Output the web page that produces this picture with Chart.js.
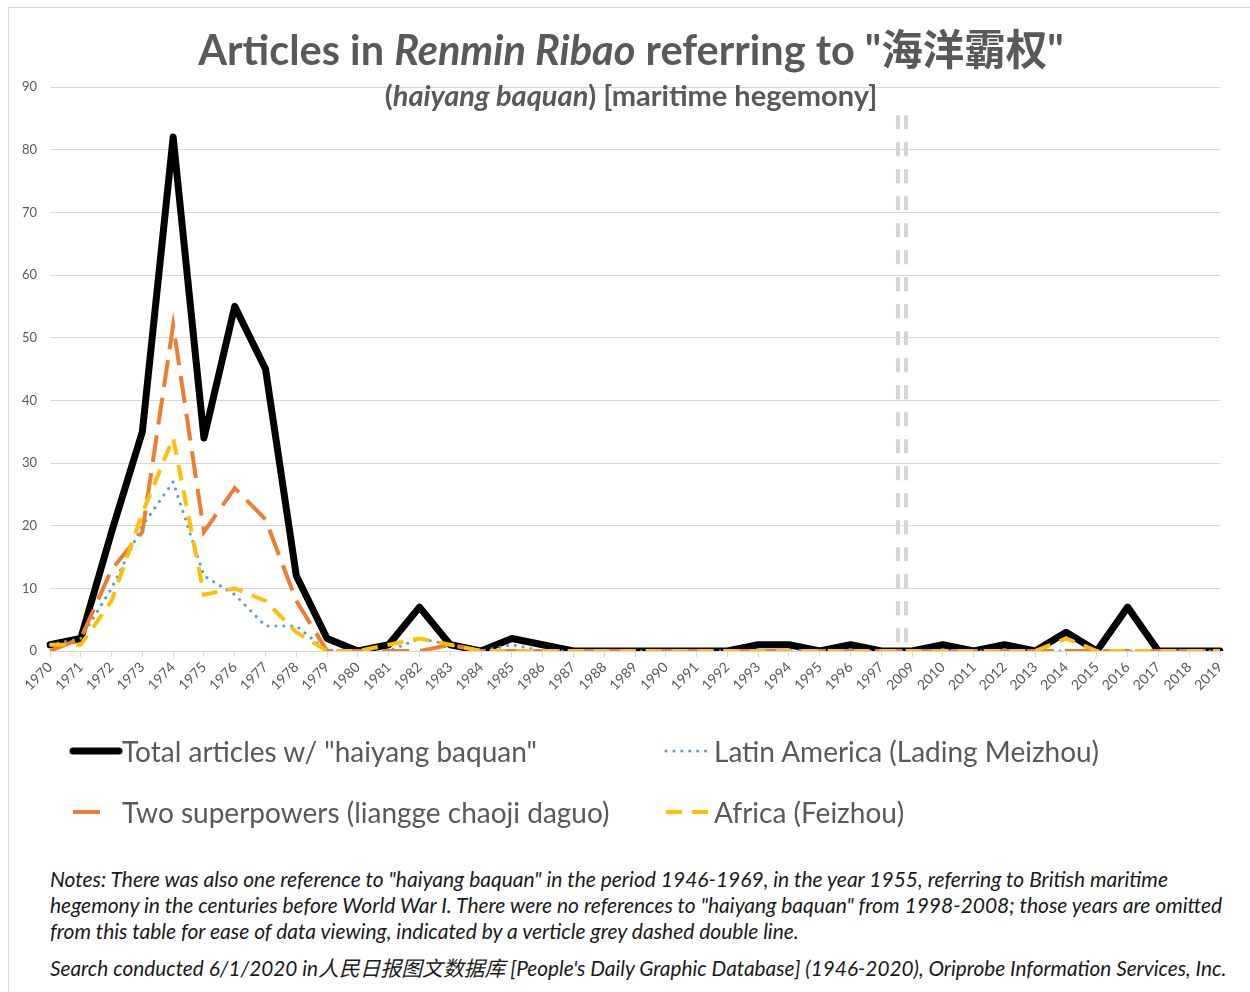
<!DOCTYPE html>
<html>
<head>
<meta charset="utf-8">
<script src="https://cdn.jsdelivr.net/npm/chart.js@4.4.1/dist/chart.umd.min.js"></script>
<style>
  body { margin: 0; background: #fff; font-family: Lato, "Noto Sans CJK SC", sans-serif; color: #595959; }
  #wrap { position: relative; width: 1250px; height: 992px; overflow: hidden; }
  #frame { position: absolute; left: 8px; top: 7px; width: 1300px; height: 1100px; border: 1px solid #d9d9d9; }
  #chart { position: absolute; left: 0; top: 0; }
  .title { position: absolute; left: 0; width: 1262px; text-align: center; font-weight: bold; white-space: nowrap; line-height: 1; }
  #t1 { top: 29px; font-size: 41.5px; }
  #t2 { top: 80px; font-size: 29px; }
  .leg { position: absolute; font-size: 28px; line-height: 30px; white-space: nowrap; }
  .note { position: absolute; left: 50px; font-style: italic; font-size: 21px; line-height: 24px; white-space: nowrap; color: #1a1a1a; }
</style>
</head>
<body>
<div id="wrap">
  <div id="frame"></div>
  <canvas id="chart" width="1250" height="860"></canvas>
  <div class="title" id="t1">Articles in <i>Renmin Ribao</i> referring to "海洋霸权"</div>
  <div class="title" id="t2">(<i>haiyang baquan</i>) [maritime hegemony]</div>

  <div class="leg" style="left:122px; top:736px;">Total articles w/ "haiyang baquan"</div>
  <div class="leg" style="left:714px; top:736px;">Latin America (Lading Meizhou)</div>
  <div class="leg" style="left:122px; top:797px;">Two superpowers (liangge chaoji daguo)</div>
  <div class="leg" style="left:714px; top:797px;">Africa (Feizhou)</div>

  <div class="note" style="top:867px;">Notes: There was also one reference to "haiyang baquan" in the period 1946-1969, in the year 1955, referring to British maritime</div>
  <div class="note" style="top:893px;">hegemony in the centuries before World War I. There were no references to "haiyang baquan" from 1998-2008; those years are omitted</div>
  <div class="note" style="top:919px;">from this table for ease of data viewing, indicated by a verticle grey dashed double line.</div>
  <div class="note" style="top:956px; font-size:20.8px;">Search conducted 6/1/2020 in人民日报图文数据库 [People's Daily Graphic Database] (1946-2020), Oriprobe Information Services, Inc.</div>
</div>

<script>
// years 1998-2008 are left out (no references)
const years = ['1970', '1971', '1972', '1973', '1974', '1975', '1976', '1977', '1978', '1979',
  '1980', '1981', '1982', '1983', '1984', '1985', '1986', '1987', '1988', '1989',
  '1990', '1991', '1992', '1993', '1994', '1995', '1996', '1997',
  '2009', '2010', '2011', '2012', '2013', '2014', '2015', '2016', '2017', '2018', '2019'];

const totalArticles = [1, 2, 19, 35, 82, 34, 55, 45, 12, 2,
  0, 1, 7, 1, 0, 2, 1, 0, 0, 0,
  0, 0, 0, 1, 1, 0, 1, 0,
  0, 1, 0, 1, 0, 3, 0, 7, 0, 0, 0];

const latinAmerica = [1, 2, 10, 20, 27, 12, 9, 4, 4, 0,
  0, 0, 2, 1, 0, 1, 0, 0, 0, 0,
  0, 0, 0, 0, 0, 0, 0, 0,
  0, 0, 0, 0, 0, 0, 0, 0, 0, 0, 0];

const twoSuperpowers = [0, 2, 13, 19, 52, 19, 26, 21, 8, 0,
  0, 0, 0, 1, 0, 0, 0, 0, 0, 0,
  0, 0, 0, 0, 0, 0, 0, 0,
  0, 0, 0, 0, 0, 0, 0, 0, 0, 0, 0];

const africa = [1, 1, 8, 22, 34, 9, 10, 8, 3, 0,
  0, 1, 2, 1, 0, 0, 0, 0, 0, 0,
  0, 0, 0, 0, 0, 0, 0, 0,
  0, 0, 0, 0, 0, 2, 0, 0, 0, 0, 0];

const yTicks = [0, 10, 20, 30, 40, 50, 60, 70, 80, 90];

const greyText = '#595959';
const gridGrey = '#d9d9d9';

// gap marker + legend line samples
const extras = {
  id: 'extras',
  beforeDatasetsDraw(chart) {
    const { ctx, scales: { x, y } } = chart;
    const i = years.indexOf('1997');
    const step = x.getPixelForValue(i + 1) - x.getPixelForValue(i);
    const cx = x.getPixelForValue(i) + step * 0.67;
    ctx.save();
    ctx.strokeStyle = '#d4d4d4';
    ctx.lineWidth = 4;
    ctx.setLineDash([14, 13]);
    [cx - 4, cx + 4].forEach(px => {
      ctx.beginPath();
      ctx.moveTo(px, y.getPixelForValue(85.5));
      ctx.lineTo(px, y.getPixelForValue(0));
      ctx.stroke();
    });
    ctx.restore();
  },
  afterDraw(chart) {
    const ctx = chart.ctx;
    const samples = [
      { ds: 0, x: 73, y: 751, w: 46 },
      { ds: 1, x: 666, y: 751, w: 42 },
      { ds: 2, x: 73, y: 812, w: 31 },
      { ds: 3, x: 666, y: 812, w: 42 }
    ];
    samples.forEach(s => {
      const d = chart.data.datasets[s.ds];
      ctx.save();
      ctx.strokeStyle = d.borderColor;
      ctx.lineWidth = d.borderWidth;
      ctx.lineCap = d.borderCapStyle || 'butt';
      ctx.setLineDash(d.borderDash || []);
      ctx.beginPath();
      ctx.moveTo(s.x, s.y);
      ctx.lineTo(s.x + s.w, s.y);
      ctx.stroke();
      ctx.restore();
    });
  }
};

new Chart(document.getElementById('chart'), {
  type: 'line',
  data: {
    labels: years,
    datasets: [
      {
        label: 'Total articles w/ "haiyang baquan"',
        data: totalArticles,
        borderColor: '#000000',
        borderWidth: 7,
        borderCapStyle: 'round',
        borderJoinStyle: 'round',
        order: 4
      },
      {
        label: 'Latin America (Lading Meizhou)',
        data: latinAmerica,
        borderColor: '#5b9bd5',
        borderWidth: 3,
        borderDash: [0.1, 7.8],
        borderCapStyle: 'round',
        order: 3
      },
      {
        label: 'Two superpowers (liangge chaoji daguo)',
        data: twoSuperpowers,
        borderColor: '#ed7d31',
        borderWidth: 4,
        borderDash: [27, 11],
        order: 2
      },
      {
        label: 'Africa (Feizhou)',
        data: africa,
        borderColor: '#ffc000',
        borderWidth: 4,
        borderDash: [16, 10],
        order: 1
      }
    ]
  },
  options: {
    responsive: false,
    animation: false,
    elements: { point: { radius: 0 }, line: { tension: 0 } },
    layout: { padding: { top: 87, right: 30, left: 0, bottom: 140 } },
    plugins: {
      legend: { display: false },
      tooltip: { enabled: false }
    },
    scales: {
      x: {
        offset: false,
        grid: { drawOnChartArea: false, drawTicks: true, tickLength: 6, color: gridGrey },
        border: { display: true, color: gridGrey },
        ticks: {
          color: greyText,
          font: { family: 'Lato', size: 14 },
          minRotation: 45,
          maxRotation: 45,
          autoSkip: false,
          padding: 2
        },
        afterFit(scale) { scale.height = 69; }
      },
      y: {
        min: 0,
        max: 90,
        afterBuildTicks(scale) { scale.ticks = yTicks.map(v => ({ value: v })); },
        grid: { color: gridGrey, drawTicks: false },
        border: { display: false },
        ticks: {
          color: greyText,
          font: { family: 'Lato', size: 13 },
          padding: 13
        },
        afterFit(scale) { scale.width = 50; }
      }
    }
  },
  plugins: [extras]
});
</script>
</body>
</html>
